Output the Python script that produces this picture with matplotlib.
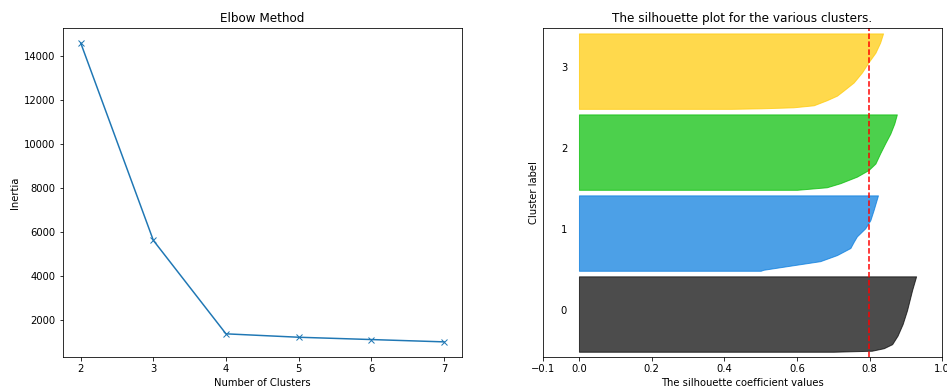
import numpy as np
import matplotlib
matplotlib.use("Agg")
import matplotlib.pyplot as plt
import matplotlib.cm as cm

# elbow data
k_values = [2, 3, 4, 5, 6, 7]
inertia = [14580, 5600, 1350, 1195, 1090, 985]

# silhouette data (sorted values read at sample ranks, 150 samples per cluster)
n_clusters = 4
cluster_sizes = [150, 150, 150, 150]
silhouette_avg = 0.799

ranks_0 = [0, 2, 7, 15, 32, 55, 82, 122, 149]
sil_0 = [0.70, 0.806, 0.839, 0.862, 0.877, 0.891, 0.903, 0.917, 0.928]

ranks_1 = [0, 2, 10, 19, 31, 45, 57, 68, 84, 100, 120, 149]
sil_1 = [0.50, 0.508, 0.581, 0.664, 0.710, 0.747, 0.756, 0.765, 0.788, 0.802, 0.811, 0.823]

ranks_2 = [0, 5, 13, 26, 39, 52, 72, 92, 111, 131, 149]
sil_2 = [0.60, 0.682, 0.719, 0.765, 0.797, 0.816, 0.829, 0.843, 0.857, 0.868, 0.875]

ranks_3 = [0, 1, 3, 7, 17, 26, 36, 52, 72, 92, 111, 131, 149]
sil_3 = [0.42, 0.50, 0.59, 0.646, 0.682, 0.710, 0.728, 0.756, 0.779, 0.797, 0.816, 0.829, 0.837]

ranks = [ranks_0, ranks_1, ranks_2, ranks_3]
sils = [sil_0, sil_1, sil_2, sil_3]

dpi = 72
fig, (ax1, ax2) = plt.subplots(1, 2, figsize=(947 / dpi, 387 / dpi), dpi=dpi)
ax1.set_position([0.066, 0.078, 0.422, 0.85])
ax2.set_position([0.573, 0.078, 0.422, 0.85])

ax1.plot(k_values, inertia, "x-")
ax1.set_title("Elbow Method")
ax1.set_xlabel("Number of Clusters")
ax1.set_ylabel("Inertia")

ax2.set_xlim([-0.1, 1])
ax2.set_ylim([0, sum(cluster_sizes) + (n_clusters + 1) * 10])
y_lower = 10
for i in range(n_clusters):
    size = cluster_sizes[i]
    y_upper = y_lower + size
    y = y_lower + np.array(ranks[i])
    color = cm.nipy_spectral(float(i) / n_clusters)
    ax2.fill_betweenx(y, 0, sils[i], facecolor=color, edgecolor=color, alpha=0.7)
    ax2.text(-0.05, y_lower + 0.5 * size, str(i))
    y_lower = y_upper + 10

ax2.set_title("The silhouette plot for the various clusters.")
ax2.set_xlabel("The silhouette coefficient values")
ax2.set_ylabel("Cluster label")
ax2.axvline(x=silhouette_avg, color="red", linestyle="--")
ax2.set_yticks([])
ax2.set_xticks([-0.1, 0, 0.2, 0.4, 0.6, 0.8, 1])

fig.savefig("out.png", dpi=dpi)
